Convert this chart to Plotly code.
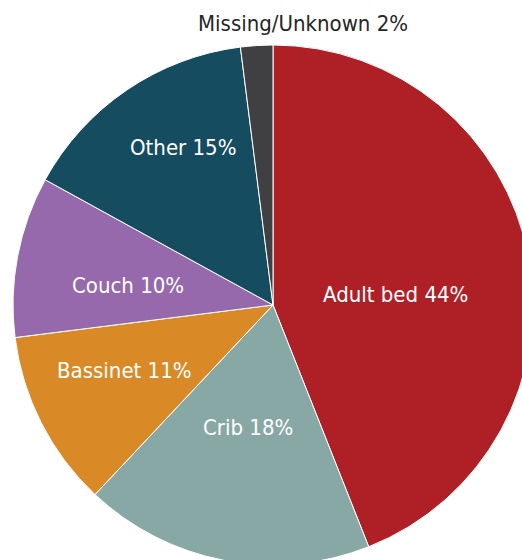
import plotly.graph_objects as go

categories = ["Adult bed", "Crib", "Bassinet", "Couch", "Other", "Missing/Unknown"]
values = [44, 18, 11, 10, 15, 2]
colors = ["#AE2025", "#88A8A6", "#D98A27", "#9669AD", "#154C60", "#404042"]

# label anchor positions in pixels (page coords) and text colours
label_px = [(395, 294), (248, 427), (124, 370), (128, 285), (183, 147), (303, 23)]
label_colors = ["white", "white", "white", "white", "white", "#262626"]

W, H = 560, 600
cx, cy, R = 273, 305, 260
FONT = "Noto Sans ExtraCondensed, Noto Sans Condensed, DejaVu Sans Condensed, sans-serif"

fig = go.Figure(go.Pie(
    labels=categories,
    values=values,
    sort=False,
    direction="clockwise",
    rotation=0,
    marker=dict(colors=colors, line=dict(color="white", width=1)),
    textinfo="none",
    domain=dict(x=[(cx - R) / W, (cx + R) / W], y=[1 - (cy + R) / H, 1 - (cy - R) / H]),
    showlegend=False,
))

for cat, v, (px, py), c in zip(categories, values, label_px, label_colors):
    fig.add_annotation(
        x=px / W, y=1 - py / H, xref="paper", yref="paper",
        text=f"{cat} {v}%", showarrow=False,
        font=dict(family=FONT, size=22, color=c),
        xanchor="center", yanchor="middle",
    )

fig.update_layout(
    width=W, height=H,
    margin=dict(l=0, r=0, t=0, b=0),
    paper_bgcolor="white",
    plot_bgcolor="white",
)

fig.write_html(
    "out.html",
    config={"displayModeBar": False},
    post_script="document.body.style.margin='0';document.body.style.overflow='hidden';",
)
